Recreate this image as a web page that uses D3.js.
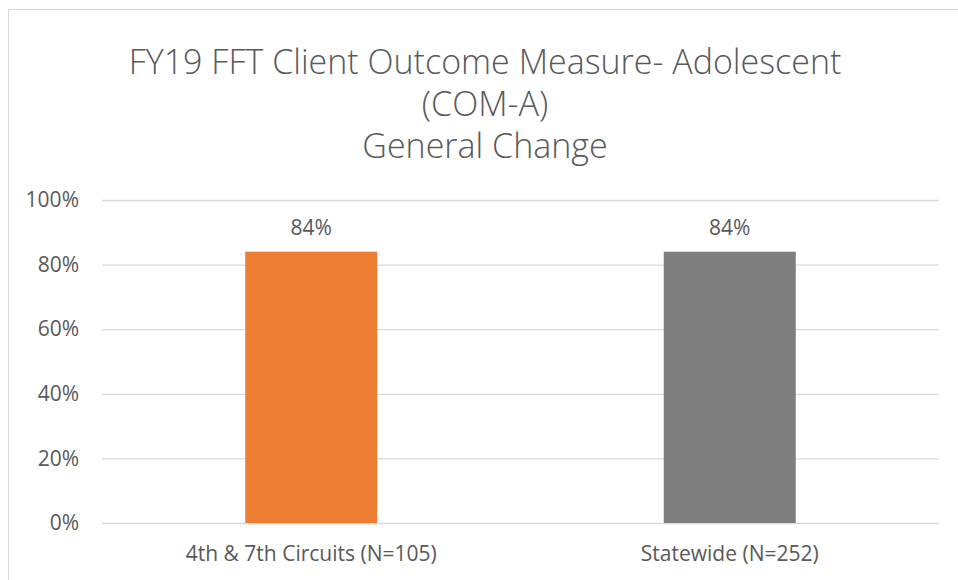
<!DOCTYPE html>
<html>
<head>
<meta charset="utf-8">
<script src="https://cdn.jsdelivr.net/npm/d3@7"></script>
<style>
  body { margin: 0; background: #fff; }
  text { font-family: "Open Sans", "Noto Sans", sans-serif; fill: #595959; }
</style>
</head>
<body>
<svg id="chart" width="958" height="580"></svg>
<script>
// 数据
const categories = ["4th & 7th Circuits (N=105)", "Statewide (N=252)"];
const values = [0.84, 0.84];
const barColors = ["#ED7D31", "#7F7F7F"];
const yTicks = [0, 0.2, 0.4, 0.6, 0.8, 1.0];
const titleLines = ["FY19 FFT Client Outcome Measure- Adolescent", "(COM-A)", "General Change"];

const svg = d3.select("#chart");
const width = 958, height = 580;

// 外边框
svg.append("rect")
    .attr("x", 8.5)
    .attr("y", 9.5)
    .attr("width", width)
    .attr("height", height)
    .attr("fill", "white")
    .attr("stroke", "#d9d9d9")
    .attr("stroke-width", 1);

// 标题
svg.append("g")
    .selectAll("text")
    .data(titleLines)
    .join("text")
    .attr("x", 485)
    .attr("y", (d, i) => 74 + i * 42)
    .attr("text-anchor", "middle")
    .attr("font-size", 34)
    .attr("font-weight", 300)
    .text(d => d);

const plot = {left: 102, right: 939, top: 200, bottom: 523};

const x = d3.scaleBand()
    .domain(categories)
    .range([plot.left, plot.right])
    .padding(0);

const y = d3.scaleLinear()
    .domain([0, 1])
    .range([plot.bottom, plot.top]);

// 网格线
const yAxis = svg.append("g")
    .attr("transform", "translate(" + plot.left + ",0)")
    .call(d3.axisLeft(y)
        .tickValues(yTicks)
        .tickFormat(d3.format(".0%"))
        .tickSize(-(plot.right - plot.left))
        .tickPadding(23));
yAxis.select(".domain").remove();
yAxis.selectAll(".tick line")
    .attr("stroke", "#d9d9d9")
    .attr("stroke-width", 1.3);
yAxis.selectAll(".tick text")
    .attr("font-size", 21)
    .attr("fill", "#595959")
    .attr("font-family", "'Open Sans', sans-serif");

// 柱子  gap width ~219%
const barW = x.bandwidth() / 3.17;
svg.append("g")
    .selectAll("rect")
    .data(values)
    .join("rect")
    .attr("x", (d, i) => x(categories[i]) + x.bandwidth() / 2 - barW / 2)
    .attr("y", d => y(d))
    .attr("width", barW)
    .attr("height", d => y(0) - y(d))
    .attr("fill", (d, i) => barColors[i]);

// 数据标签
svg.append("g")
    .selectAll("text")
    .data(values)
    .join("text")
    .attr("x", (d, i) => x(categories[i]) + x.bandwidth() / 2)
    .attr("y", d => y(d) - 17)
    .attr("text-anchor", "middle")
    .attr("font-size", 21)
    .text(d => d3.format(".0%")(d));

// 类别标签
const xAxis = svg.append("g")
    .attr("transform", "translate(0," + plot.bottom + ")")
    .call(d3.axisBottom(x).tickSize(0).tickPadding(23));
xAxis.select(".domain").remove();
xAxis.selectAll(".tick text")
    .attr("font-size", 21)
    .attr("fill", "#595959")
    .attr("font-family", "'Open Sans', sans-serif");
</script>
</body>
</html>
